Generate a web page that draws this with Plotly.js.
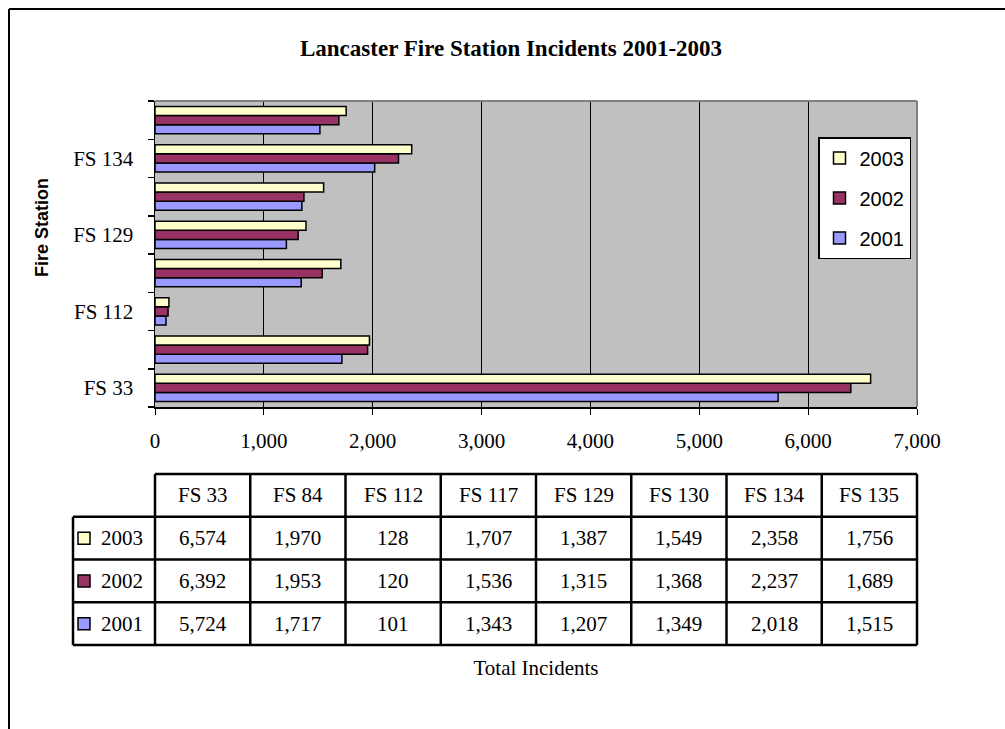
<!DOCTYPE html>
<html>
<head>
<meta charset="utf-8">
<script src="https://cdn.plot.ly/plotly-3.0.1.min.js"></script>
<style>html,body{margin:0;padding:0;background:#fff;}#chart{width:1005px;height:729px;}</style>
</head>
<body>
<div id="chart"></div>
<script>
// ---- data ----
const categories = ['FS 33','FS 84','FS 112','FS 117','FS 129','FS 130','FS 134','FS 135'];
const seriesNames = ['2001','2002','2003'];
const values2001 = [5724,1717,101,1343,1207,1349,2018,1515];
const values2002 = [6392,1953,120,1536,1315,1368,2237,1689];
const values2003 = [6574,1970,128,1707,1387,1549,2358,1756];
const yTickLabels = ['FS 33','FS 112','FS 129','FS 134'];
const xTickValues = [0,1000,2000,3000,4000,5000,6000,7000];
const titleText = 'Lancaster Fire Station Incidents 2001-2003';
const xTitleText = 'Total Incidents';
const yTitleText = 'Fire Station';

// ---- styling ----
const W = 1005, H = 729;
const colors = {'2001':'#9999FF','2002':'#993366','2003':'#FFFFCC'};
const legendRanks = {'2001':3,'2002':2,'2003':1};
const serif = 'Liberation Serif, Times New Roman, serif';
const sans = 'Liberation Sans, Arial, sans-serif';
const px = v => v / W;
const py = v => 1 - v / H;

// plot area pixels
const PL = 155, PR = 917, PT = 101, PB = 407;
// table pixels
const TL = 73, TR = 917, TT = 474, TB = 645;
const colW = (TR - PL) / categories.length;
const rowH = (TB - TT) / 4;
const labelColUnits = (PL - TL) / colW;
const pad = 4;

const seriesValues = {'2001': values2001, '2002': values2002, '2003': values2003};

const traces = seriesNames.map(name => ({
  type: 'bar',
  orientation: 'h',
  name: name,
  legendgroup: name,
  legendrank: legendRanks[name],
  y: categories,
  x: seriesValues[name],
  xaxis: 'x',
  yaxis: 'y',
  marker: {color: colors[name], line: {color: '#000', width: 1.5}},
  hoverinfo: 'x+y+name'
}));

// ---- table (drawn on its own axes x2/y2) ----
const shapes = [];
const annotations = [];
const lineStyle = {color: '#000', width: 2.5};
// white background for the table subplot
shapes.push({type:'rect', xref:'x2', yref:'y2',
  x0:-labelColUnits - 1, x1:categories.length + 1, y0:-1, y1:5,
  fillcolor:'#fff', line:{width:0}, layer:'below'});
// header top
shapes.push({type:'line', xref:'x2', yref:'y2', x0:0, x1:categories.length, y0:0, y1:0, line:lineStyle});
// vertical column lines
for (let i = 0; i <= categories.length; i++) {
  shapes.push({type:'line', xref:'x2', yref:'y2', x0:i, x1:i, y0:0, y1:4, line:lineStyle});
}
// label column left line
shapes.push({type:'line', xref:'x2', yref:'y2', x0:-labelColUnits, x1:-labelColUnits, y0:1, y1:4, line:lineStyle});
// horizontal row lines
for (let r = 1; r <= 4; r++) {
  shapes.push({type:'line', xref:'x2', yref:'y2', x0:-labelColUnits, x1:categories.length, y0:r, y1:r, line:lineStyle});
}
// header labels
categories.forEach((c, i) => {
  annotations.push({xref:'x2', yref:'y2', x:i + 0.5, y:0.5, text:c, showarrow:false,
    font:{family:serif, size:21, color:'#000'}, xanchor:'center', yanchor:'middle'});
});
// rows: 2003, 2002, 2001
const tableRows = ['2003','2002','2001'];
tableRows.forEach((name, r) => {
  const yc = r + 1.5;
  const sq = 6 / rowH;
  shapes.push({type:'rect', xref:'x2', yref:'y2',
    x0: (78 - PL) / colW, x1: (90 - PL) / colW, y0: yc - sq, y1: yc + sq,
    fillcolor: colors[name], line:{color:'#000', width:1.5}});
  annotations.push({xref:'x2', yref:'y2', x:(122 - PL) / colW, y:yc, text:name, showarrow:false,
    font:{family:serif, size:21, color:'#000'}, xanchor:'center', yanchor:'middle'});
  seriesValues[name].forEach((v, i) => {
    annotations.push({xref:'x2', yref:'y2', x:i + 0.5, y:yc, text:v.toLocaleString('en-US'), showarrow:false,
      font:{family:serif, size:21, color:'#000'}, xanchor:'center', yanchor:'middle'});
  });
});

// y-axis title (placed like the original, slightly above the plot centre)
annotations.push({xref:'paper', yref:'paper', x:px(42), y:py(228), text:yTitleText, textangle:-90,
  showarrow:false, xanchor:'center', yanchor:'middle',
  font:{family:sans, size:18, color:'#000', weight:'bold'}});

// plot area gray border (top and right)
shapes.push({type:'line', xref:'paper', yref:'paper', x0:px(PL), x1:px(PR), y0:py(PT), y1:py(PT), line:{color:'#808080', width:2}, layer:'above'});
shapes.push({type:'line', xref:'paper', yref:'paper', x0:px(PR), x1:px(PR), y0:py(PT), y1:py(PB), line:{color:'#808080', width:2}, layer:'above'});
// chart outer border (left and top)
shapes.push({type:'line', xref:'paper', yref:'paper', x0:px(9), x1:px(9), y0:-0.05, y1:py(9), line:{color:'#000', width:2}});
shapes.push({type:'line', xref:'paper', yref:'paper', x0:px(9), x1:1.05, y0:py(9), y1:py(9), line:{color:'#000', width:2}});

const layout = {
  width: W, height: H,
  margin: {l:0, r:0, t:0, b:0},
  paper_bgcolor: '#fff',
  plot_bgcolor: '#C0C0C0',
  showlegend: true,
  barmode: 'group',
  bargap: 0.29,
  bargroupgap: 0,
  title: {text: titleText, x: 0.5085, xref:'paper', y: py(48), yref:'container', xanchor:'center', yanchor:'middle',
    font:{family:serif, size:23, color:'#000', weight:'bold'}},
  xaxis: {
    domain: [px(PL), px(PR)],
    range: [0, 7000], autorange: false,
    tickvals: xTickValues, tickformat: ',d',
    ticks: 'outside', ticklen: 6, tickwidth: 1, tickcolor: '#000',
    ticklabelstandoff: 8,
    showline: true, linecolor: '#000', linewidth: 1.5,
    showgrid: true, gridcolor: '#000', gridwidth: 1,
    zeroline: false,
    tickfont: {family:serif, size:21, color:'#000'},
    title: {text: xTitleText, standoff: 208, font:{family:serif, size:21, color:'#000'}},
    anchor: 'y', fixedrange: true
  },
  yaxis: {
    domain: [py(PB), py(PT)],
    type: 'category', categoryorder: 'array', categoryarray: categories,
    range: [-0.5, 7.5], autorange: false,
    tickvals: yTickLabels, ticktext: yTickLabels,
    ticks: '', ticklabelstandoff: 16,
    showline: true, linecolor: '#000', linewidth: 1.5,
    showgrid: false, zeroline: false,
    tickfont: {family:serif, size:21, color:'#000'},
    anchor: 'x', fixedrange: true
  },
  yaxis3: {
    overlaying: 'y', anchor: 'x', side: 'left',
    range: [-0.5, 7.5], autorange: false,
    tickvals: [-0.5,0.5,1.5,2.5,3.5,4.5,5.5,6.5,7.5],
    ticks: 'outside', ticklen: 6, tickwidth: 1.5, tickcolor: '#000',
    showticklabels: false, showgrid: false, zeroline: false, showline: false,
    fixedrange: true
  },
  xaxis2: {
    domain: [px(TL - pad), px(TR + pad)],
    range: [-labelColUnits - pad / colW, categories.length + pad / colW], autorange: false,
    visible: false, anchor: 'y2', fixedrange: true
  },
  yaxis2: {
    domain: [py(TB + pad), py(TT - pad)],
    range: [4 + pad / rowH, -pad / rowH], autorange: false,
    visible: false, anchor: 'x2', fixedrange: true
  },
  legend: {
    x: px(818), y: py(137), xanchor: 'left', yanchor: 'top',
    bgcolor: '#fff', bordercolor: '#000', borderwidth: 1.5,
    font: {family: sans, size: 20, color: '#000'},
    traceorder: 'grouped', tracegroupgap: 11,
    itemclick: false, itemdoubleclick: false
  },
  shapes: shapes,
  annotations: annotations
};

// dummy invisible trace to activate table axes
traces.push({type:'scatter', x:[0], y:[0], xaxis:'x2', yaxis:'y2', mode:'markers',
  marker:{opacity:0}, showlegend:false, hoverinfo:'skip'});
// dummy invisible trace for tick overlay axis
traces.push({type:'scatter', x:[0], y:[0], xaxis:'x', yaxis:'y3', mode:'markers',
  marker:{opacity:0}, showlegend:false, hoverinfo:'skip'});

Plotly.newPlot('chart', traces, layout, {displayModeBar: false, staticPlot: true});
</script>
</body>
</html>
